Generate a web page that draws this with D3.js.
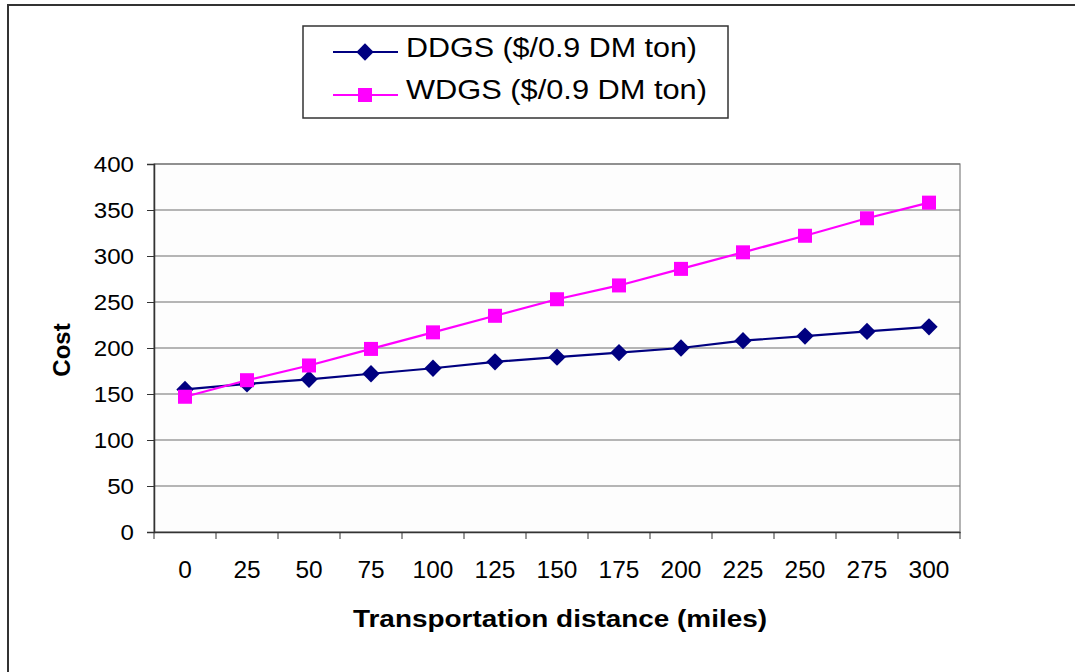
<!DOCTYPE html>
<html><head><meta charset="utf-8">
<script src="https://cdn.jsdelivr.net/npm/d3@7"></script>
<style>body{margin:0;background:#fff}svg{display:block}text{font-family:Arial,"Liberation Sans",sans-serif}</style>
</head><body><svg id="c" width="1075" height="672"></svg>
<script>
const distances = ["0","25","50","75","100","125","150","175","200","225","250","275","300"];
const ddgs = [155,161,166,172,178,185,190,195,200,208,213,218,223];
const wdgs = [147,165,181,199,217,235,253,268,286,304,322,341,358];
const yTicks = [0,50,100,150,200,250,300,350,400];
const seriesNames = ["DDGS ($/0.9 DM ton)","WDGS ($/0.9 DM ton)"];

const svg = d3.select("#c");
const FF = "Arial, 'Liberation Sans', sans-serif";
// outer frame
svg.append("rect").attr("x",8).attr("y",5).attr("width",1100).attr("height",700)
  .attr("fill","#fff").attr("stroke","#333").attr("stroke-width",2);

const L=154,R=960,T=164,B=532;
const x = d3.scaleBand().domain(distances).range([L,R]);
const y = d3.scaleLinear().domain([0,400]).range([B,T]);

svg.append("rect").attr("x",L).attr("y",T).attr("width",R-L).attr("height",B-T)
  .attr("fill","#fdfdfd").attr("stroke","#808080").attr("stroke-width",1.2);

// gridlines
svg.append("g").selectAll("line").data(yTicks.filter(d=>d>0)).join("line")
  .attr("x1",L).attr("x2",R).attr("y1",d=>y(d)).attr("y2",d=>y(d))
  .attr("stroke","#6e6e6e").attr("stroke-width",1.2);

// y axis
const ya = svg.append("g").attr("transform",`translate(${L},0)`)
  .call(d3.axisLeft(y).tickValues(yTicks).tickSize(7).tickPadding(13));
ya.select(".domain").attr("stroke","#333").attr("stroke-width",1.5);
ya.selectAll(".tick line").attr("stroke","#333");
ya.selectAll("text").attr("font-size",22).attr("fill","#000").attr("font-family",FF)
  .attr("dy","0.36em")
  .attr("textLength",d=>String(d).length*13.4).attr("lengthAdjust","spacingAndGlyphs");

// x axis
const xa = svg.append("g").attr("transform",`translate(0,${B})`)
  .call(d3.axisBottom(x).tickSize(0));
xa.select(".domain").attr("stroke","#333").attr("stroke-width",1.5);
xa.selectAll("text").attr("font-size",24).attr("fill","#000").attr("font-family",FF)
  .attr("y",45.5).attr("dy",null)
  .attr("textLength",d=>String(d).length*13.6).attr("lengthAdjust","spacingAndGlyphs");
// x tick marks at band boundaries
const bounds = distances.map(d=>x(d)).concat([R]);
svg.append("g").selectAll("line").data(bounds).join("line")
  .attr("x1",d=>d).attr("x2",d=>d)
  .attr("y1",B).attr("y2",B+7).attr("stroke","#333");

const cx = d => x(d)+x.bandwidth()/2;
const line = d3.line().x((d,i)=>cx(distances[i])).y(d=>y(d));

svg.append("path").datum(ddgs).attr("d",line).attr("fill","none").attr("stroke","#000080").attr("stroke-width",2.2);
svg.append("g").selectAll("path").data(ddgs).join("path")
  .attr("d",d3.symbol(d3.symbolSquare,150))
  .attr("transform",(d,i)=>`translate(${cx(distances[i])},${y(d)}) rotate(45)`)
  .attr("fill","#000080");
svg.append("path").datum(wdgs).attr("d",line).attr("fill","none").attr("stroke","#ff00ff").attr("stroke-width",2.2);
svg.append("g").selectAll("rect").data(wdgs).join("rect")
  .attr("x",(d,i)=>cx(distances[i])-7).attr("y",d=>y(d)-7).attr("width",14).attr("height",14)
  .attr("fill","#ff00ff");

// axis titles
svg.append("text").attr("x",(L+R)/2+3).attr("y",627).attr("text-anchor","middle")
  .attr("font-size",23.5).attr("font-weight","bold")
  .attr("textLength",414).attr("lengthAdjust","spacingAndGlyphs").text("Transportation distance (miles)");
svg.append("text").attr("transform",`translate(69.5,350) rotate(-90)`).attr("text-anchor","middle")
  .attr("font-size",24).attr("font-weight","bold").text("Cost");

// legend
const lg = svg.append("g");
lg.append("rect").attr("x",303).attr("y",26).attr("width",425).attr("height",92)
  .attr("fill","#fff").attr("stroke","#333").attr("stroke-width",1.5);
const rows = [{n:seriesNames[0],c:"#000080",s:"d",y:52,b:56.7,w:291},{n:seriesNames[1],c:"#ff00ff",s:"s",y:95,b:98.5,w:301}];
rows.forEach(r=>{
  lg.append("line").attr("x1",333).attr("x2",398).attr("y1",r.y).attr("y2",r.y).attr("stroke",r.c).attr("stroke-width",2.2);
  if(r.s==="d") lg.append("path").attr("d",d3.symbol(d3.symbolSquare,150)).attr("transform",`translate(365,${r.y}) rotate(45)`).attr("fill",r.c);
  else lg.append("rect").attr("x",358).attr("y",r.y-7).attr("width",14).attr("height",14).attr("fill",r.c);
  lg.append("text").attr("x",406).attr("y",r.b).attr("font-size",27.5)
    .attr("textLength",r.w).attr("lengthAdjust","spacingAndGlyphs").text(r.n);
});
</script></body></html>
